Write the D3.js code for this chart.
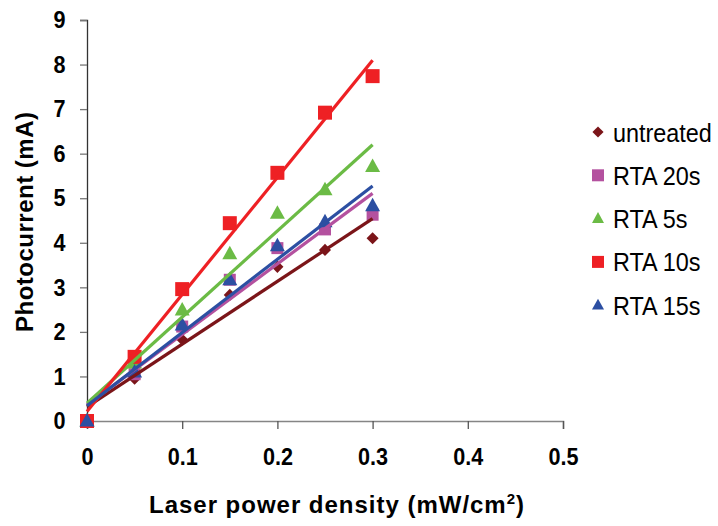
<!DOCTYPE html>
<html>
<head>
<meta charset="utf-8">
<script src="https://cdn.jsdelivr.net/npm/d3@7"></script>
<style>
  body { margin: 0; background: #fff; }
  .tick text { font-family: "Liberation Sans", Arial, sans-serif; font-weight: bold; font-size: 24px; }
</style>
</head>
<body>
<div id="chart"></div>
<script>
const xValues = [0, 0.05, 0.1, 0.15, 0.2, 0.25, 0.3];
const untreated = [0, 0.95, 1.83, 2.83, 3.46, 3.84, 4.1];
const rta20 = [0, 1.05, 2.12, 3.17, 3.88, 4.3, 4.63];
const rta5 = [0, 1.3, 2.49, 3.75, 4.66, 5.19, 5.71];
const rta10 = [0, 1.44, 2.96, 4.44, 5.57, 6.92, 7.74];
const rta15 = [0, 1.1, 2.15, 3.17, 3.93, 4.47, 4.83];
const xTicks = [0, 0.1, 0.2, 0.3, 0.4, 0.5];
const yTicks = [0, 1, 2, 3, 4, 5, 6, 7, 8, 9];

const series = [
    { name: "untreated", values: untreated, color: "#7b1519", shape: "diamond" },
    { name: "RTA 20s", values: rta20, color: "#b4519f", shape: "square" },
    { name: "RTA 5s", values: rta5, color: "#6bbb45", shape: "triangle" },
    { name: "RTA 10s", values: rta10, color: "#ee2024", shape: "square" },
    { name: "RTA 15s", values: rta15, color: "#2c4fa2", shape: "triangle" }
];

const svgWidth = 718;
const svgHeight = 526;

const svg = d3.select("#chart")
    .append("svg")
    .attr("width", svgWidth)
    .attr("height", svgHeight);

const xScale = d3.scaleLinear().domain([0, 0.5]).range([87, 563]);
const yScale = d3.scaleLinear().domain([0, 9]).range([421, 20]);

// axes
svg.append("g")
    .attr("transform", `translate(0, ${yScale(0)})`)
    .call(d3.axisBottom(xScale).tickValues(xTicks).tickSize(8).tickPadding(19).tickFormat(d => d === 0 ? "0" : d3.format(".1f")(d)))
    .call(g => g.select(".domain").attr("stroke", "#858585").attr("stroke-width", 1.5))
    .call(g => g.selectAll(".tick line").attr("stroke", "#555").attr("stroke-width", 1.3))
    .call(g => g.selectAll(".tick text").attr("fill", "#000").attr("transform", "scale(0.9,1)"));

svg.append("g")
    .attr("transform", `translate(${xScale(0)}, 0)`)
    .call(d3.axisLeft(yScale).tickValues(yTicks).tickSize(7).tickPadding(17))
    .call(g => g.select(".domain").attr("stroke", "#333").attr("stroke-width", 1.3))
    .call(g => g.selectAll(".tick line").attr("stroke", "#777").attr("stroke-width", 1.3))
    .call(g => g.selectAll(".tick text").attr("fill", "#000").attr("transform", "scale(0.9,1)"));

function marker(sel, shape, size) {
    if (shape === "diamond") {
        sel.attr("d", d3.symbol(d3.symbolDiamond2, size * size * 0.55));
    } else if (shape === "square") {
        sel.attr("d", `M${-size / 2},${-size / 2}h${size}v${size}h${-size}Z`);
    } else {
        const h = size * 0.9;
        sel.attr("d", `M0,${-h * 0.6}L${size / 2},${h * 0.4}L${-size / 2},${h * 0.4}Z`);
    }
}

const markerSize = { diamond: 13, square: 14, triangle: 15 };

// markers
series.forEach(s => {
    svg.append("g").selectAll("path")
        .data(s.values.map((v, i) => [xValues[i], v]))
        .enter()
        .append("path")
        .attr("transform", d => `translate(${xScale(d[0])}, ${yScale(d[1])})`)
        .attr("fill", s.color)
        .call(marker, s.shape, s.name === "RTA 20s" ? 12 : markerSize[s.shape]);
});

// linear trendlines (least squares)
series.forEach(s => {
    const mx = d3.mean(xValues);
    const my = d3.mean(s.values);
    const slope = d3.sum(xValues, (x, i) => (x - mx) * (s.values[i] - my)) / d3.sum(xValues, x => (x - mx) * (x - mx));
    const icpt = my - slope * mx;
    const x1 = xValues[xValues.length - 1];
    svg.append("line")
        .attr("x1", xScale(0))
        .attr("y1", yScale(icpt))
        .attr("x2", xScale(x1))
        .attr("y2", yScale(icpt + slope * x1))
        .attr("stroke", s.color)
        .attr("stroke-width", 3.2);
});

// legend
const legend = svg.append("g").attr("transform", "translate(598, 132)");
series.forEach((s, i) => {
    const row = legend.append("g").attr("transform", `translate(0, ${i * 43.3})`);
    row.append("path")
        .attr("fill", s.color)
        .call(marker, s.shape, 12);
    row.append("text")
        .attr("transform", "translate(15, 9.5) scale(0.9,1)")
        .attr("font-family", "Liberation Sans, Arial, sans-serif")
        .attr("font-size", "26px")
        .text(s.name);
});

// axis titles
svg.append("text")
    .attr("transform", "rotate(-90)")
    .attr("x", -222)
    .attr("y", 33)
    .attr("text-anchor", "middle")
    .attr("textLength", 220)
    .attr("lengthAdjust", "spacing")
    .attr("font-family", "Liberation Sans, Arial, sans-serif")
    .attr("font-weight", "bold")
    .attr("font-size", "24px")
    .text("Photocurrent (mA)");

const xTitle = svg.append("text")
    .attr("x", 149)
    .attr("y", 513)
    .attr("textLength", 375)
    .attr("lengthAdjust", "spacing")
    .attr("font-family", "Liberation Sans, Arial, sans-serif")
    .attr("font-weight", "bold")
    .attr("font-size", "24px");
xTitle.append("tspan").text("Laser power density (mW/cm");
xTitle.append("tspan").attr("dy", -9).attr("font-size", "15px").text("2");
xTitle.append("tspan").attr("dy", 9).text(")");
</script>
</body>
</html>
